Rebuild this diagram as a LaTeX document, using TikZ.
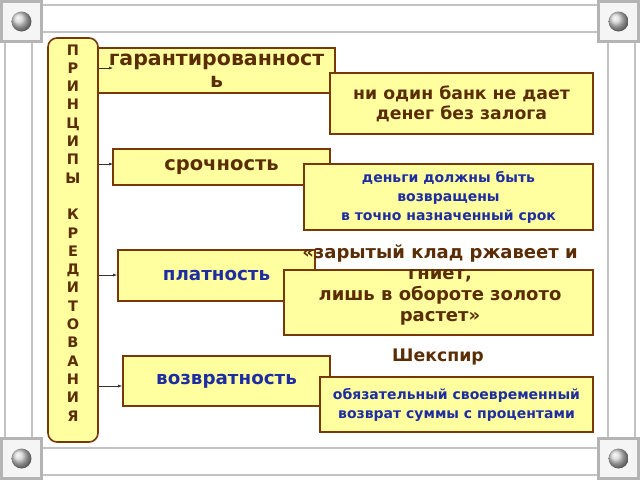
\documentclass[tikz,border=0pt]{standalone}
\usepackage{fontspec}
\setmainfont{DejaVu Sans}
\usetikzlibrary{arrows.meta,calc}
\definecolor{boxfill}{RGB}{255,255,160}
\definecolor{boxline}{RGB}{120,56,10}
\definecolor{txtbrown}{RGB}{90,45,5}
\definecolor{txtblue}{RGB}{30,45,160}
\definecolor{framegray}{RGB}{195,195,195}
\definecolor{cornergray}{RGB}{180,180,180}
\tikzset{
  box/.style={draw=boxline,line width=1.6pt,fill=boxfill,inner sep=0pt,align=center},
  brownbig/.style={text=txtbrown,font=\bfseries\fontsize{20.5}{22}\selectfont},
  brownmid/.style={text=txtbrown,font=\bfseries\fontsize{17.3}{20}\selectfont},
  bluebig/.style={text=txtblue,font=\bfseries\fontsize{18.3}{20}\selectfont},
  bluesmall/.style={text=txtblue,font=\bfseries\fontsize{14}{19}\selectfont},
  vletter/.style={text=txtbrown,font=\bfseries\fontsize{14.5}{14}\selectfont,anchor=base,inner sep=0pt},
  link/.style={draw=black!80,line width=0.6pt,-{Latex[length=4pt,width=3pt]}},
  frameline/.style={draw=framegray,line width=2.2pt}
}
\begin{document}
\begin{tikzpicture}[x=1pt,y=-1pt]
\useasboundingbox (0,0) rectangle (640,480);
\fill[white] (0,0) rectangle (640,480);
\draw[frameline] (43,5)--(597,5) (43,32)--(597,32) (43,448)--(597,448) (43,475)--(597,475);
\draw[frameline] (5,43)--(5,437) (32,43)--(32,437) (608,43)--(608,437) (635,43)--(635,437);
\foreach \cx/\cy in {0/0,597/0,0/437,597/437}{
  \draw[cornergray,line width=2.4pt,fill=black!4] (\cx+1.5,\cy+1.5) rectangle ++(40,40);
  \shade[ball color=gray!35] (\cx+21.5,\cy+21.5) circle (10);
}
\node[box,rounded corners=9pt,minimum width=50pt,minimum height=404pt] (princ) at (73,240) {};
\foreach \ch [count=\i from 0] in {П,Р,И,Н,Ц,И,П,Ы}
  \node[vletter] (l\i) at (73,55+18.3*\i) {\ch};
\foreach \ch [count=\i from 9] in {К,Р,Е,Д,И,Т,О,В,А,Н,И,Я}
  \node[vletter] (l\i) at (73,55+18.3*\i) {\ch};
\node[box,brownbig,minimum width=237pt,minimum height=45pt] (garant) at (216.5,70.5) {гарантированност\\ь};
\node[box,brownmid,minimum width=263pt,minimum height=61pt] (zalog) at (461.5,103.5) {ни один банк не дает\\денег без залога};
\node[box,brownbig,font=\bfseries\fontsize{19.5}{22}\selectfont,minimum width=217pt,minimum height=36pt] (sroch) at (221.5,167) {срочность};
\node[box,bluesmall,minimum width=289pt,minimum height=66pt] (srok) at (448.5,197) {деньги должны быть\\возвращены\\в точно назначенный срок};
\node[box,bluebig,minimum width=197pt,minimum height=51pt] (plat) at (216.5,275.5) {платность};
\node[box,minimum width=309pt,minimum height=65pt] (klad) at (438.5,302.5) {};
\node[brownmid,font=\bfseries\fontsize{18}{21}\selectfont,align=center,inner sep=0pt] (kladtext) at (440,285) {«зарытый клад ржавеет и\\гниет,\\лишь в обороте золото\\растет»};
\node[brownmid,inner sep=0pt] (shek) at (438,357) {Шекспир};
\node[box,bluebig,minimum width=207pt,minimum height=50pt] (vozv) at (226.5,381) {возвратность};
\node[box,bluesmall,minimum width=273pt,minimum height=55pt] (proc) at (456.5,404.5) {обязательный своевременный\\возврат суммы с процентами};
\coordinate (a1) at (113,68);
\coordinate (a2) at (113,164);
\coordinate (a3) at (plat.west |- 0,275);
\coordinate (a4) at (vozv.west |- 0,386);
\foreach \a in {a1,a2,a3,a4}
  \draw[link] (princ.east |- \a) -- (\a);
\end{tikzpicture}
\end{document}
